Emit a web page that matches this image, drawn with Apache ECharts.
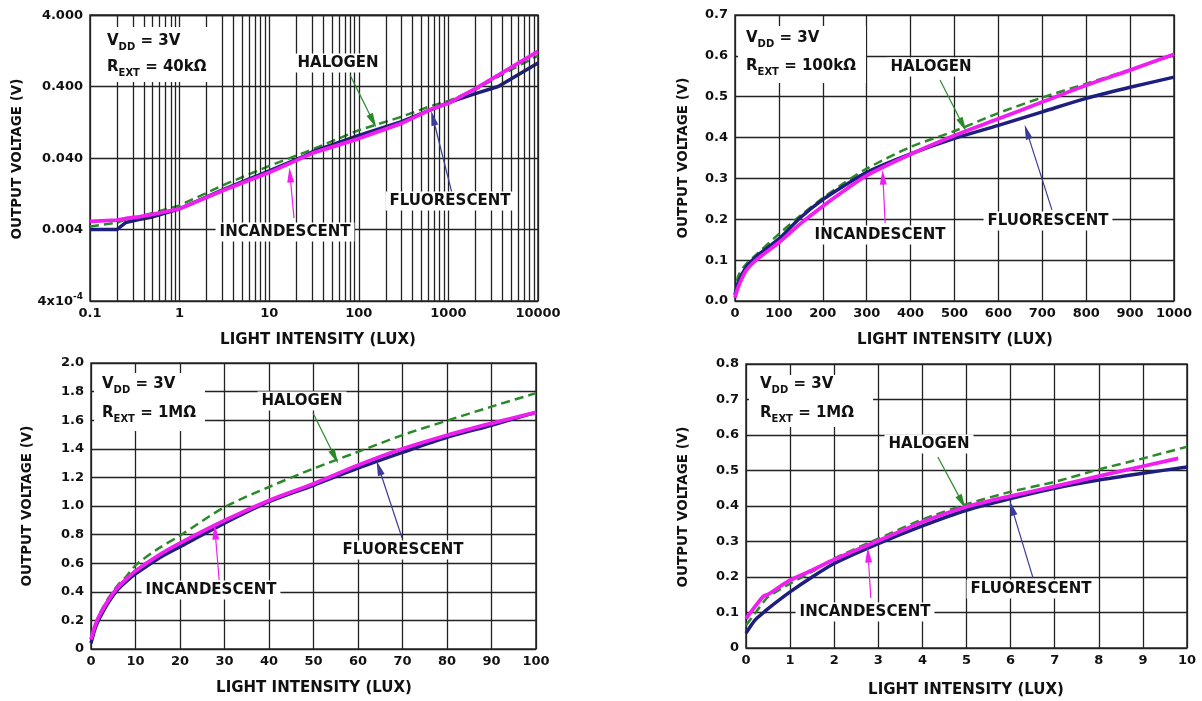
<!DOCTYPE html>
<html><head><meta charset="utf-8">
<script src="https://cdn.jsdelivr.net/npm/echarts@6/dist/echarts.min.js"></script>
<style>html,body{margin:0;padding:0;background:#fff}#c{width:1202px;height:701px}</style>
</head><body><div id="c"></div>
<script>
// ---------- DATA ----------
// Panel 1: log-log, REXT = 40kΩ
const p1Lux = [0.1, 0.2, 0.25, 0.35, 0.5, 1, 3.3, 10, 25, 31.6, 100, 300, 640, 1000, 2000, 3600, 10000];
const p1Incandescent = [0.0052, 0.0054, 0.0057, 0.006, 0.0065, 0.0078, 0.0146, 0.0251, 0.0418, 0.0476, 0.0748, 0.122, 0.192, 0.233, 0.374, 0.578, 1.24];
const p1Fluorescent = [0.004, 0.004, 0.005, 0.0055, 0.006, 0.0078, 0.015, 0.0264, 0.043, 0.05, 0.083, 0.129, 0.19, 0.238, 0.318, 0.40, 0.853];
const p1Halogen = [0.0044, 0.005, 0.0055, 0.006, 0.0068, 0.0087, 0.0174, 0.031, 0.048, 0.054, 0.098, 0.151, 0.214, 0.251, 0.36, 0.55, 1.08];
const p1XLabels = ['0.1', '1', '10', '100', '1000', '10000'];
const p1YLabels = ['{a|4x10}{p|-4}', '0.004', '0.040', '0.400', '4.000'];
const p1MinorLux = [0.2,0.3,0.4,0.5,0.6,0.7,0.8,0.9, 2,3,4,5,6,7,8,9, 20,30,40,50,60,70,80,90,
  200,300,400,500,600,700,800,900, 2000,3000,4000,5000,6000,7000,8000,9000];

// Panel 2: REXT = 100kΩ
const p2Lux = [0, 7, 25, 50, 100, 150, 200, 250, 300, 400, 500, 600, 700, 800, 900, 1000];
const p2Incandescent = [0.008, 0.033, 0.074, 0.102, 0.143, 0.19, 0.232, 0.271, 0.307, 0.359, 0.405, 0.446, 0.487, 0.528, 0.565, 0.604];
const p2Fluorescent = [0.015, 0.045, 0.082, 0.11, 0.152, 0.205, 0.248, 0.283, 0.315, 0.36, 0.398, 0.43, 0.463, 0.496, 0.523, 0.548];
const p2Halogen = [0.015, 0.06, 0.09, 0.115, 0.164, 0.21, 0.252, 0.29, 0.324, 0.377, 0.416, 0.46, 0.498, 0.532, 0.566, 0.602];

// Panel 3: REXT = 1MΩ, 0-100 lux
const p3Lux = [0, 1, 2, 4, 6, 8, 10, 15, 20, 30, 40, 50, 60, 70, 80, 90, 100];
const p3Incandescent = [0.066, 0.17, 0.24, 0.347, 0.43, 0.49, 0.546, 0.652, 0.74, 0.898, 1.039, 1.156, 1.285, 1.40, 1.495, 1.578, 1.655];
const p3Fluorescent = [0.04, 0.15, 0.22, 0.33, 0.415, 0.475, 0.525, 0.63, 0.715, 0.88, 1.03, 1.145, 1.265, 1.375, 1.48, 1.565, 1.655];
const p3Halogen = [0.066, 0.17, 0.25, 0.36, 0.445, 0.51, 0.585, 0.70, 0.793, 0.992, 1.133, 1.262, 1.379, 1.496, 1.597, 1.695, 1.789];

// Panel 4: REXT = 1MΩ, 0-10 lux
const p4Lux = [0, 0.2, 0.4, 0.5, 1, 1.5, 2, 3, 4, 5, 6, 7, 8, 9, 10];
const p4IncLux = [0, 0.2, 0.4, 0.5, 1, 1.5, 2, 3, 4, 5, 6, 7, 8, 9, 9.8];
const p4Incandescent = [0.083, 0.116, 0.146, 0.151, 0.191, 0.219, 0.249, 0.302, 0.355, 0.398, 0.428, 0.455, 0.484, 0.512, 0.534];
const p4Fluorescent = [0.042, 0.078, 0.1, 0.111, 0.158, 0.2, 0.238, 0.294, 0.344, 0.388, 0.421, 0.45, 0.473, 0.492, 0.51];
const p4Halogen = [0.064, 0.097, 0.13, 0.144, 0.181, 0.215, 0.252, 0.308, 0.362, 0.405, 0.44, 0.468, 0.503, 0.534, 0.567];

// Annotation arrows (data coordinates: [from, to])
const p1Arrows = { halogen: [[79.8, 0.58], [144, 0.1315]], fluorescent: [[1097, 0.0129], [673, 0.145]], incandescent: [[18.9, 0.0058], [17.1, 0.0231]] };
const p2Arrows = { halogen: [[467, 0.541], [519, 0.431]], fluorescent: [[722, 0.223], [665, 0.414]], incandescent: [[342, 0.191], [337, 0.303]] };
const p3Arrows = { halogen: [[49.9, 1.65], [54.8, 1.343]], fluorescent: [[69.9, 0.776], [64.7, 1.266]], incandescent: [[28.8, 0.483], [27.9, 0.818]] };
const p4Arrows = { halogen: [[4.35, 0.538], [4.9, 0.411]], fluorescent: [[6.51, 0.197], [6.03, 0.394]], incandescent: [[2.83, 0.141], [2.77, 0.262]] };

// ---------- STYLE ----------
const FONT = '"DejaVu Sans", "Liberation Sans", sans-serif';
const C_INC = '#f01ef0', C_FLU = '#1e1e7e', C_HAL = '#2a8a2a', C_FLU_ARROW = '#3b3b9a';
const GRIDC = '#222';

function pairs(xs, ys) { return xs.map((x, i) => [x, ys[i]]); }

function arrowLine(a, color) {
  return {
    silent: true, animation: false, symbol: ['none', 'none'],
    label: { show: false }, emphasis: { disabled: true },
    lineStyle: { color: color, width: 1.2, type: 'solid' },
    data: [[{ coord: a[0], symbol: 'none' }, { coord: a[1], symbol: 'triangle', symbolSize: [7, 15] }]]
  };
}

function panelSeries(g, xs, inc, flu, hal, arrows, smooth, incXs) {
  return [
    { type: 'line', name: 'HALOGEN', xAxisIndex: g, yAxisIndex: g, data: pairs(xs, hal), showSymbol: false, smooth: smooth,
      lineStyle: { color: C_HAL, width: 2.5, type: [9, 5] }, itemStyle: { color: C_HAL }, z: 3, markLine: arrowLine(arrows.halogen, C_HAL) },
    { type: 'line', name: 'FLUORESCENT', xAxisIndex: g, yAxisIndex: g, data: pairs(xs, flu), showSymbol: false, smooth: smooth,
      lineStyle: { color: C_FLU, width: 3.5 }, itemStyle: { color: C_FLU }, z: 4, markLine: arrowLine(arrows.fluorescent, C_FLU_ARROW) },
    { type: 'line', name: 'INCANDESCENT', xAxisIndex: g, yAxisIndex: g, data: pairs(incXs || xs, inc), showSymbol: false, smooth: smooth,
      lineStyle: { color: C_INC, width: 3.8 }, itemStyle: { color: C_INC }, z: 5, markLine: arrowLine(arrows.incandescent, C_INC) }
  ];
}

const labelBase = { fontFamily: FONT, fontWeight: 'bold', fontSize: 13, color: '#111' };
const splitL = { show: true, lineStyle: { color: GRIDC, width: 1.3 } };

function valAxis(g, min, max, interval, fmt, isX) {
  return {
    type: 'value', gridIndex: g, min: min, max: max, interval: interval,
    axisLine: { show: false }, axisTick: { show: false }, splitLine: splitL,
    axisLabel: Object.assign({}, labelBase, { formatter: fmt, margin: isX ? 6 : 7 })
  };
}

const grids = [
  { left: 90, top: 15, width: 448, height: 286 },
  { left: 735, top: 15, width: 439, height: 286 },
  { left: 91, top: 363, width: 445, height: 286 },
  { left: 746, top: 364, width: 441, height: 284 }
].map(g => Object.assign(g, { show: true, borderColor: '#333', borderWidth: 1.6, backgroundColor: 'transparent', containLabel: false, outerBoundsMode: 'none' }));

const xAxes = [
  { type: 'log', logBase: 10, gridIndex: 0, min: 0.1, max: 10000,
    axisLine: { show: false }, axisTick: { show: false }, splitLine: splitL,
    axisLabel: Object.assign({}, labelBase, { margin: 6, formatter: (v, i) => p1XLabels[i] }) },
  valAxis(1, 0, 1000, 100, v => String(v), true),
  valAxis(2, 0, 100, 10, v => String(v), true),
  valAxis(3, 0, 10, 1, v => String(v), true)
];
const yAxes = [
  { type: 'log', logBase: 10, gridIndex: 0, min: 4e-4, max: 4, interval: 1,
    axisLine: { show: false }, axisTick: { show: false }, splitLine: splitL,
    axisLabel: Object.assign({}, labelBase, { margin: 7, formatter: (v, i) => p1YLabels[i],
      rich: { a: { fontFamily: FONT, fontWeight: 'bold', fontSize: 13, color: '#111', lineHeight: 14, verticalAlign: 'bottom' },
              p: { fontFamily: FONT, fontWeight: 'bold', fontSize: 9, color: '#111', lineHeight: 9, padding: [0, 0, 9, 0] } } }) },
  valAxis(1, 0, 0.7, 0.1, v => v.toFixed(1)),
  valAxis(2, 0, 2.0, 0.2, v => (v === 0 ? '0' : v.toFixed(1))),
  valAxis(3, 0, 0.8, 0.1, v => (v === 0 ? '0' : v.toFixed(1)))
];

const series = [
  { type: 'line', xAxisIndex: 0, yAxisIndex: 0, data: [], z: 1, silent: true,
    markLine: { silent: true, animation: false, symbol: ['none', 'none'], label: { show: false }, emphasis: { disabled: true },
      lineStyle: { color: GRIDC, width: 1.3, type: 'solid' }, data: p1MinorLux.map(v => ({ xAxis: v })) } }
].concat(
  panelSeries(0, p1Lux, p1Incandescent, p1Fluorescent, p1Halogen, p1Arrows, false),
  panelSeries(1, p2Lux, p2Incandescent, p2Fluorescent, p2Halogen, p2Arrows, 0.3),
  panelSeries(2, p3Lux, p3Incandescent, p3Fluorescent, p3Halogen, p3Arrows, 0.3),
  panelSeries(3, p4Lux, p4Incandescent, p4Fluorescent, p4Halogen, p4Arrows, 0.25, p4IncLux)
);

// ---------- ANNOTATIONS (layout) ----------
const graphic = [];
function tag(text, x, y) {
  graphic.push({ type: 'text', x: x, y: y, z: 100, silent: true,
    style: { text: text, fill: '#111', font: 'bold 15px ' + FONT, align: 'center', verticalAlign: 'middle',
             textAlign: 'center', textVerticalAlign: 'middle', backgroundColor: '#fff', padding: [2, 4, 2, 4] } });
}
const condRich = {
  m: { font: 'bold 15px ' + FONT, fill: '#111', lineHeight: 16, verticalAlign: 'top' },
  s: { font: 'bold 10px ' + FONT, fill: '#111', lineHeight: 10, padding: [10, 0, 0, 0] }
};
function condBox(rx, ry, rw, rh, tx, y1, y2, rext) {
  graphic.push({ type: 'rect', z: 99, silent: true, shape: { x: rx, y: ry, width: rw, height: rh }, style: { fill: '#fff' } });
  graphic.push({ type: 'text', x: tx, y: y1 + 2, z: 100, silent: true,
    style: { text: '{m|V}{s|DD}{m| = 3V}', rich: condRich, align: 'left', verticalAlign: 'middle', textAlign: 'left', textVerticalAlign: 'middle' } });
  graphic.push({ type: 'text', x: tx, y: y2 + 2, z: 100, silent: true,
    style: { text: '{m|R}{s|EXT}{m| = ' + rext + '}', rich: condRich, align: 'left', verticalAlign: 'middle', textAlign: 'left', textVerticalAlign: 'middle' } });
}
function axisTitles(xx, xy, yx, yy) {
  graphic.push({ type: 'text', x: xx, y: xy, z: 100, silent: true,
    style: { text: 'LIGHT INTENSITY (LUX)', fill: '#111', font: 'bold 15px ' + FONT, align: 'center', verticalAlign: 'middle', textAlign: 'center', textVerticalAlign: 'middle' } });
  graphic.push({ type: 'text', x: yx, y: yy, rotation: Math.PI / 2, z: 100, silent: true,
    style: { text: 'OUTPUT VOLTAGE (V)', fill: '#111', font: 'bold 13.5px ' + FONT, align: 'center', verticalAlign: 'middle', textAlign: 'center', textVerticalAlign: 'middle' } });
}

condBox(93, 27, 119, 55, 107, 40, 66, '40kΩ');
condBox(738, 26, 128, 57, 746, 37, 65, '100kΩ');
condBox(94, 373, 111, 58, 102, 383, 412, '1MΩ');
condBox(749, 375, 124, 52, 760, 383, 412, '1MΩ');

tag('HALOGEN', 338, 63); tag('FLUORESCENT', 450, 201); tag('INCANDESCENT', 285, 232);
tag('HALOGEN', 931, 67); tag('FLUORESCENT', 1048, 221); tag('INCANDESCENT', 880, 235);
tag('HALOGEN', 302, 401); tag('FLUORESCENT', 403, 550); tag('INCANDESCENT', 211, 590);
tag('HALOGEN', 929, 444); tag('FLUORESCENT', 1031, 589); tag('INCANDESCENT', 865, 612);

axisTitles(318, 340, 17, 159);
axisTitles(955, 340, 683, 158);
axisTitles(314, 688, 27, 506);
axisTitles(966, 690, 683, 507);

const chart = echarts.init(document.getElementById('c'), null, { renderer: 'canvas' });
chart.setOption({
  animation: false,
  backgroundColor: '#fff',
  grid: grids,
  xAxis: xAxes,
  yAxis: yAxes,
  series: series,
  graphic: graphic
});
</script>
</body></html>
